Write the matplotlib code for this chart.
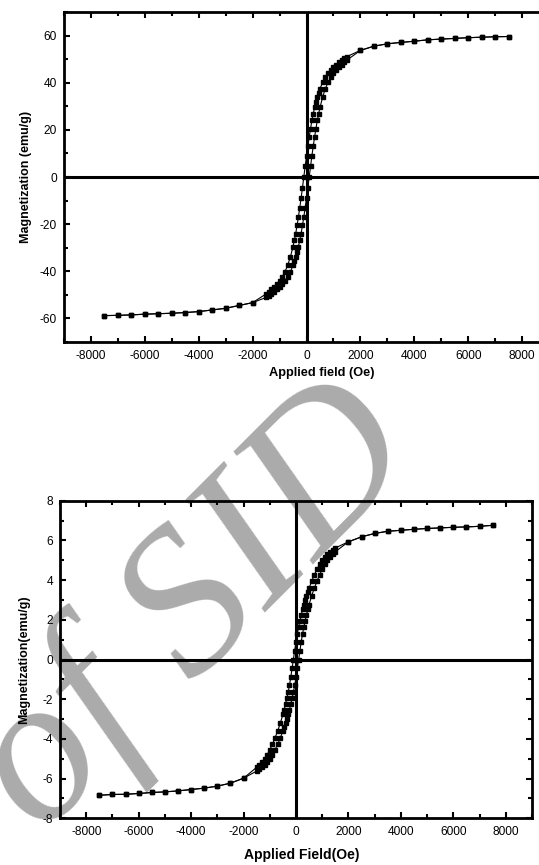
import numpy as np
import matplotlib
matplotlib.use("Agg")
import matplotlib.pyplot as plt
from matplotlib.ticker import MultipleLocator

plt.rcParams['font.family'] = ['Liberation Sans', 'DejaVu Sans']
plt.rcParams['axes.unicode_minus'] = False

# fields (Oe)
field_high_pos = [7500, 7000, 6500, 6000, 5500, 5000, 4500, 4000, 3500, 3000, 2500, 2000]
field_high_neg = [-2000, -2500, -3000, -3500, -4000, -4500, -5000, -5500, -6000, -6500, -7000, -7500]
field_dense = [1500, 1400, 1300, 1200, 1100, 1000, 900, 800, 700, 600, 500, 450, 400, 350,
               300, 250, 200, 150, 100, 50, 0, -50, -100, -150, -200, -250, -300, -350, -400,
               -450, -500, -600, -700, -800, -900, -1000, -1100, -1200, -1300, -1400, -1500]

# top sample (emu/g)
top_high_pos = [59.6, 59.5, 59.3, 59.1, 58.8, 58.5, 58.2, 57.6, 57.1, 56.5, 55.5, 53.7]
top_high_neg = [-53.3, -54.5, -55.7, -56.4, -57.1, -57.5, -57.8, -58.0, -58.2, -58.5, -58.7, -58.8]
top_desc = [51.1, 50.4, 49.6, 48.7, 47.7, 46.6, 45.4, 44.0, 42.3, 40.2, 37.5, 35.8, 34.0, 32.0,
            29.5, 26.8, 24.0, 20.5, 17.0, 13.0, 9.0, 4.5, 0.0, -4.5, -9.0, -13.0, -17.0, -20.5,
            -24.0, -26.8, -29.5, -34.0, -37.5, -40.2, -42.3, -44.0, -45.4, -46.6, -47.7, -48.7, -49.6]
top_asc = [-51.1, -50.4, -49.6, -48.7, -47.7, -46.6, -45.4, -44.0, -42.3, -40.2, -37.5, -35.8, -34.0,
           -32.0, -29.5, -26.8, -24.0, -20.5, -17.0, -13.0, -9.0, -4.5, 0.0, 4.5, 9.0, 13.0, 17.0,
           20.5, 24.0, 26.8, 29.5, 34.0, 37.5, 40.2, 42.3, 44.0, 45.4, 46.6, 47.7, 48.7, 49.6]

# bottom sample (emu/g)
bot_high_pos = [6.76, 6.71, 6.68, 6.66, 6.63, 6.60, 6.56, 6.51, 6.46, 6.35, 6.18, 5.93]
bot_high_neg = [-5.98, -6.23, -6.38, -6.48, -6.55, -6.62, -6.67, -6.70, -6.75, -6.79, -6.80, -6.84]
bot_desc = [5.62, 5.53, 5.43, 5.31, 5.17, 5.00, 4.80, 4.55, 4.27, 3.95, 3.60, 3.41, 3.22, 3.02,
            2.77, 2.52, 2.25, 1.95, 1.65, 1.30, 0.90, 0.45, 0.00, -0.45, -0.90, -1.30, -1.65, -1.95,
            -2.25, -2.52, -2.77, -3.22, -3.60, -3.95, -4.27, -4.55, -4.80, -5.00, -5.17, -5.31, -5.43]
bot_asc = [-5.62, -5.53, -5.43, -5.31, -5.17, -5.00, -4.80, -4.55, -4.27, -3.95, -3.60, -3.41, -3.22,
           -3.02, -2.77, -2.52, -2.25, -1.95, -1.65, -1.30, -0.90, -0.45, 0.00, 0.45, 0.90, 1.30, 1.65,
           1.95, 2.25, 2.52, 2.77, 3.22, 3.60, 3.95, 4.27, 4.55, 4.80, 5.00, 5.17, 5.31, 5.43]

x_ticks = [-8000, -6000, -4000, -2000, 0, 2000, 4000, 6000, 8000]


def draw_loop(ax, hp, hn, desc, asc):
    h_desc = field_high_pos + field_dense + field_high_neg
    m_desc = hp + desc + hn
    h_asc = field_high_neg[::-1] + [-f for f in field_dense] + field_high_pos[::-1]
    m_asc = hn[::-1] + asc + hp[::-1]
    for h, m in [(h_desc, m_desc), (h_asc, m_asc)]:
        ax.plot(h, m, color='black', lw=0.8, marker='s', ms=3.0, mfc='black', mec='black', zorder=4)
    ax.axhline(0, color='black', lw=2.2, zorder=3)
    ax.axvline(0, color='black', lw=2.2, zorder=3)


def style(ax, ymaj, ymin):
    ax.set_facecolor('none')
    ax.set_xlim(-9000, 9000)
    ax.set_xticks(x_ticks)
    ax.xaxis.set_minor_locator(MultipleLocator(1000))
    ax.yaxis.set_major_locator(MultipleLocator(ymaj))
    ax.yaxis.set_minor_locator(MultipleLocator(ymin))
    ax.tick_params(which='both', direction='in', top=True, right=True, width=1.5, labelsize=8.6)
    ax.tick_params(which='major', length=4.5)
    ax.tick_params(which='minor', length=2.8)
    ax.tick_params(axis='x', pad=5.5)
    ax.tick_params(axis='y', pad=5)
    for s in ax.spines.values():
        s.set_linewidth(2.0)


fig = plt.figure(figsize=(5.39, 8.65), dpi=100)

# watermark
fig.text(195 / 539, 1 - 610 / 865, 'of SID', fontsize=150, color='#ababab', rotation=45,
         family='Liberation Serif', style='italic', ha='center', va='center', zorder=-1)

ax1 = fig.add_axes([64 / 539, 1 - 342 / 865, 485 / 539, 330 / 865])
draw_loop(ax1, top_high_pos, top_high_neg, top_desc, top_asc)
style(ax1, 20, 10)
ax1.set_ylim(-70, 70)
ax1.set_yticks([-60, -40, -20, 0, 20, 40, 60])
ax1.set_ylabel('Magnetization (emu/g)', fontsize=9, fontweight='bold')
ax1.yaxis.set_label_coords(-0.066, 0.5)
fig.text(322 / 539, 1 - 373 / 865, 'Applied field (Oe)', fontsize=9.2, fontweight='bold',
         ha='center', va='center')

ax2 = fig.add_axes([60 / 539, 1 - 818.3 / 865, 472 / 539, 317.6 / 865])
draw_loop(ax2, bot_high_pos, bot_high_neg, bot_desc, bot_asc)
style(ax2, 2, 1)
ax2.set_ylim(-8, 8)
ax2.set_ylabel('Magnetization(emu/g)', fontsize=9, fontweight='bold')
ax2.yaxis.set_label_coords(-0.064, 0.5)
fig.text(302 / 539, 1 - 855 / 865, 'Applied Field(Oe)', fontsize=10, fontweight='bold',
         ha='center', va='center')

fig.savefig('out.png', dpi=100)
